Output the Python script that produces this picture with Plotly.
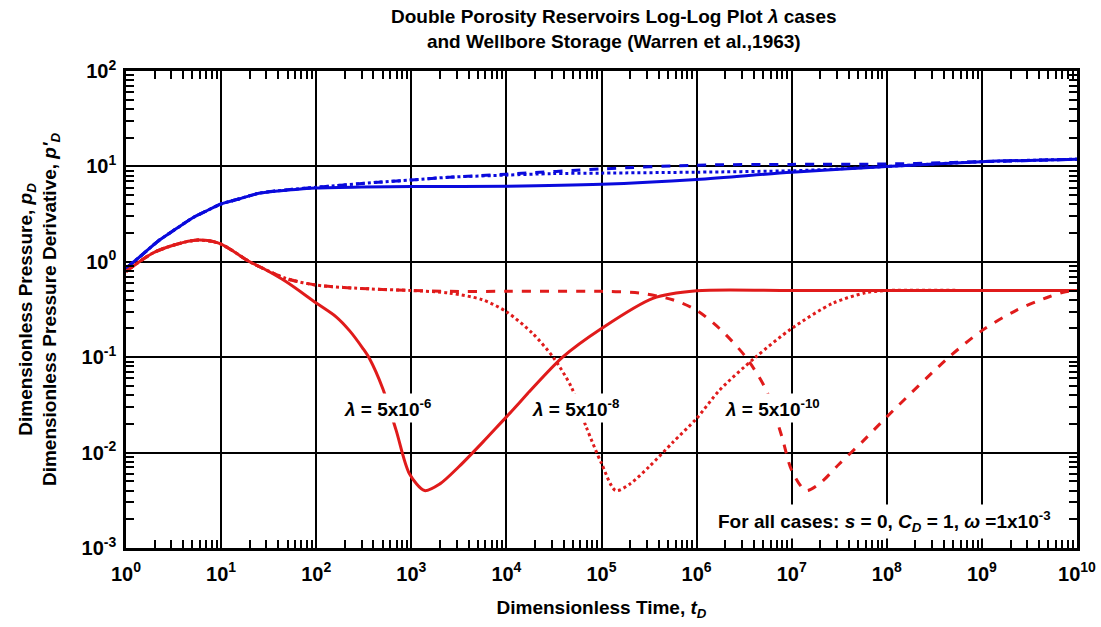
import plotly.graph_objects as go

# ---- data -------------------------------------------------------------
# dimensionless pressure p_D (blue) for the three interporosity cases
pd_t_l6 = [1, 1.5, 2.25, 3.3, 5, 7, 10, 15, 25, 50, 100, 300, 1e3, 1e4, 1e5, 1e6, 1e7, 1e8, 1e9, 1e10]
pd_v_l6 = [0.855, 1.2, 1.69, 2.19, 2.88, 3.41, 4.04, 4.52, 5.23, 5.65, 5.95, 6.1, 6.15, 6.2, 6.5, 7.3, 8.7, 10.0, 11.2, 11.9]

pd_t_l8 = [1, 1.5, 2.25, 3.3, 5, 7, 10, 15, 25, 50, 100, 450, 1e3, 2.5e3, 1e4, 3e4, 1e5, 1e6, 1e7, 3e7, 1e8, 1e9, 1e10]
pd_v_l8 = [0.855, 1.2, 1.69, 2.19, 2.88, 3.41, 4.04, 4.52, 5.23, 5.68, 6.05, 6.83, 7.2, 7.7, 8.1, 8.4, 8.5, 8.7, 9.0, 9.4, 10.0, 11.2, 11.9]

pd_t_l10 = [1, 1.5, 2.25, 3.3, 5, 7, 10, 15, 25, 50, 100, 450, 1e3, 2.5e3, 1e4, 1e5, 1e6, 1e7, 1e8, 5e8, 1e9, 1e10]
pd_v_l10 = [0.855, 1.2, 1.69, 2.19, 2.88, 3.41, 4.04, 4.52, 5.23, 5.68, 6.05, 6.83, 7.2, 7.7, 8.28, 9.4, 10.3, 10.5, 10.6, 11.0, 11.2, 11.9]

# pressure derivative p'_D (red)
dp_t_l6 = [1, 1.9, 3.2, 5.7, 9.6, 20, 27.5, 48, 100, 162, 224, 309, 363, 501, 692, 955, 1380,
           2000, 3160, 5620, 1e4, 3.9e4, 1e5, 3.47e5, 1e6, 1e7, 1e8, 1e9, 1e10]
dp_v_l6 = [0.79, 1.23, 1.5, 1.69, 1.56, 1.0, 0.855, 0.62, 0.37, 0.265, 0.19, 0.124, 0.097, 0.047, 0.0172, 0.006, 0.004,
           0.0047, 0.0071, 0.0128, 0.0237, 0.1, 0.2, 0.414, 0.497, 0.5, 0.5, 0.5, 0.5]

dp_t_l8 = [1, 1.9, 3.2, 5.7, 9.6, 20, 27.5, 48, 100, 363, 1e3, 2.5e3, 5.6e3, 1e4, 1.88e4, 3.1e4, 4.8e4, 6.9e4,
           1e5, 1.41e5, 2e5, 3.16e5, 5.62e5, 1e6, 1.74e6, 4.17e6, 1e7, 2.7e7, 6e7, 1e8, 1e9, 1e10]
dp_v_l8 = [0.79, 1.23, 1.5, 1.69, 1.56, 1.0, 0.855, 0.67, 0.57, 0.52, 0.5, 0.47, 0.40, 0.30, 0.178, 0.1, 0.049, 0.0186,
           0.0077, 0.004, 0.0047, 0.0071, 0.0128, 0.0228, 0.045, 0.1, 0.2, 0.367, 0.474, 0.5, 0.5, 0.5]

dp_t_l10 = [1, 1.9, 3.2, 5.7, 9.6, 20, 27.5, 48, 100, 363, 1e3, 2.5e3, 1e4, 1e5, 2.5e5, 5.6e5, 1e6, 1.74e6, 3.3e6,
            5.4e6, 7.9e6, 1e7, 1.41e7, 2e7, 3.16e7, 5.62e7, 1e8, 4.5e8, 1e9, 2.3e9, 5.1e9, 7.6e9, 1e10]
dp_v_l10 = [0.79, 1.23, 1.5, 1.69, 1.56, 1.0, 0.855, 0.67, 0.57, 0.52, 0.5, 0.49, 0.49, 0.49, 0.47, 0.40, 0.31, 0.2,
            0.1, 0.045, 0.0146, 0.0065, 0.004, 0.0048, 0.0076, 0.0132, 0.0237, 0.1, 0.19, 0.31, 0.43, 0.485, 0.5]

x_tickvals = [1, 10, 100, 1e3, 1e4, 1e5, 1e6, 1e7, 1e8, 1e9, 1e10]
x_ticktext = ["10<sup>%d</sup>" % k for k in range(0, 11)]
y_tickvals = [1e-3, 1e-2, 1e-1, 1, 10, 100]
y_ticktext = ["10<sup>-3</sup>", "10<sup>-2</sup>", "10<sup>-1</sup>", "10<sup>0</sup>", "10<sup>1</sup>", "10<sup>2</sup>"]

case_labels = ["<i>λ</i> = 5x10<sup>-6</sup>", "<i>λ</i> = 5x10<sup>-8</sup>", "<i>λ</i> = 5x10<sup>-10</sup>"]
case_label_pos = [(2.75, -1.53), (4.73, -1.53), (6.80, -1.53)]  # log10 coordinates

BLUE = "#0A0ADC"
RED = "#E01B1B"
FONT = "Liberation Sans, Arial, sans-serif"

fig = go.Figure()

series = [
    (pd_t_l10, pd_v_l10, BLUE, "dash"),
    (pd_t_l8, pd_v_l8, BLUE, "dot"),
    (pd_t_l6, pd_v_l6, BLUE, "solid"),
    (dp_t_l10, dp_v_l10, RED, "dash"),
    (dp_t_l8, dp_v_l8, RED, "dot"),
    (dp_t_l6, dp_v_l6, RED, "solid"),
]
for t, v, col, dash in series:
    fig.add_trace(go.Scatter(
        x=t, y=v, mode="lines",
        line=dict(color=col, width=3, dash=dash, shape="spline", smoothing=0.8),
        showlegend=False, hoverinfo="skip",
    ))

minor_vals = [k * 10 ** n for n in range(-3, 10) for k in range(2, 10)]

axis_common = dict(
    type="log",
    showgrid=True, gridcolor="black", gridwidth=2,
    showline=True, linecolor="black", linewidth=2.5, mirror="allticks",
    ticks="inside", ticklen=0, tickcolor="black",
    tickmode="array",
    tickfont=dict(family=FONT, size=20, color="black", weight="bold"),
    minor=dict(tickmode="array", tickvals=minor_vals, ticks="inside", ticklen=8,
               tickwidth=2, tickcolor="black", showgrid=False),
    zeroline=False,
)

fig.update_xaxes(
    **axis_common, range=[0, 10], tickvals=x_tickvals, ticktext=x_ticktext,
    ticklabelstandoff=6,
    title=dict(text="Dimensionless Time, <i>t<sub>D</sub></i>",
               font=dict(family=FONT, size=19, color="black", weight="bold"), standoff=17),
)
fig.update_yaxes(
    **axis_common, range=[-3, 2], tickvals=y_tickvals, ticktext=y_ticktext,
    ticklabelstandoff=3,
    title=dict(text="Dimensionless Pressure, <i>p<sub>D</sub></i><br>Dimensionless Pressure Derivative, <i>p'<sub>D</sub></i>",
               font=dict(family=FONT, size=19, color="black", weight="bold"), standoff=20),
)

for txt, (lx, ly) in zip(case_labels, case_label_pos):
    fig.add_annotation(x=lx, y=ly, xref="x", yref="y", text=txt, showarrow=False,
                       bgcolor="white", borderpad=2,
                       font=dict(family=FONT, size=19, color="black", weight="bold"))

fig.add_annotation(
    x=0.7976, y=0.056, xref="paper", yref="paper", xanchor="center", yanchor="middle",
    text="For all cases: <i>s</i> = 0, <i>C<sub>D</sub></i> = 1, <i>ω</i> =1x10<sup>-3</sup>",
    showarrow=False, bgcolor="white", borderpad=3,
    font=dict(family=FONT, size=19, color="black", weight="bold"),
)

# two-line title above the plot frame
fig.add_annotation(
    x=0.513, y=1.088, xref="paper", yref="paper", xanchor="center", yanchor="middle",
    text="Double Porosity Reservoirs Log-Log Plot <i>λ</i> cases<br>and Wellbore Storage (Warren et al.,1963)",
    showarrow=False,
    font=dict(family=FONT, size=19, color="black", weight="bold"),
)

fig.update_layout(
    width=1101, height=627,
    margin=dict(l=126, r=24, t=71, b=79, autoexpand=False),
    paper_bgcolor="white", plot_bgcolor="white",
)

fig.write_html("out.html")
